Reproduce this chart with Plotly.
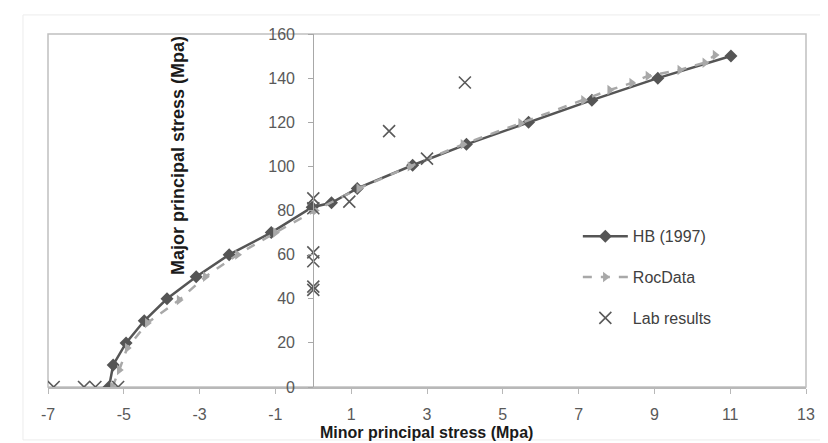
import plotly.graph_objects as go

# HB (1997) series
hb_sigma3 = [-5.39, -5.28, -4.94, -4.46, -3.86, -3.09, -2.22, -1.11, -0.03, 0.48, 1.16, 2.62, 4.04, 5.68, 7.35, 9.09, 11.02]
hb_sigma1 = [0, 10, 20, 30, 40, 50, 60, 70, 81.5, 83.5, 90, 100.5, 110, 120, 130, 140, 150]

# RocData series
rd_sigma3 = [-5.3, -5.12, -4.91, -4.38, -3.54, -2.85, -2.0, -1.0, 0.05, 1.2, 2.55, 3.95, 5.47, 7.13, 7.82, 8.4, 8.83, 9.67, 10.33, 10.6]
rd_sigma1 = [0, 7.7, 17.7, 29, 39.4, 50, 60, 70, 80, 90, 100, 110, 119.6, 130, 134.6, 137.8, 141, 143.7, 147, 150.5]

# Lab results
lab_sigma3 = [-6.85, -6.05, -5.75, -5.15, 0, 0, 0, 0, 0, 0, 0.95, 2.0, 3.0, 4.0]
lab_sigma1 = [0, 0, 0, 0, 44, 45.5, 57, 61, 81, 85.5, 84, 116, 103.5, 138]

x_ticks = [-7, -5, -3, -1, 1, 3, 5, 7, 9, 11, 13]
x_tick_labels = ["-7", "-5", "-3", "-1", "1", "3", "5", "7", "9", "11", "13"]
y_ticks = [0, 20, 40, 60, 80, 100, 120, 140, 160]
x_range = [-7, 13]
y_range = [0, 160]

fig = go.Figure()

fig.add_trace(go.Scatter(
    x=hb_sigma3, y=hb_sigma1, mode="lines+markers", name="HB (1997)",
    line=dict(color="#555555", width=2.5),
    marker=dict(symbol="diamond", size=10, color="#555555"),
    legendgroup="a",
))
fig.add_trace(go.Scatter(
    x=rd_sigma3, y=rd_sigma1, mode="lines+markers", name="RocData",
    line=dict(color="#a8a8a8", width=2.5, dash="dash"),
    marker=dict(symbol="triangle-right", size=9, color="#a8a8a8"),
    legendgroup="b",
))
fig.add_trace(go.Scatter(
    x=lab_sigma3, y=lab_sigma1, mode="markers", name="Lab results",
    marker=dict(symbol="x-thin-open", size=12, color="#5a5a5a",
                line=dict(width=1.6, color="#5a5a5a")),
    legendgroup="c",
))

yaxis_pos = (0 - x_range[0]) / (x_range[1] - x_range[0])

fig.update_layout(
    width=820, height=435,
    margin=dict(l=40, r=22, t=26, b=56),
    paper_bgcolor="white", plot_bgcolor="white",
    font=dict(family="Liberation Sans, Arial, sans-serif", color="#595959"),
    showlegend=True,
    legend=dict(
        x=0.699, y=0.475, xanchor="left", yanchor="top",
        font=dict(size=16, color="#404040"),
        tracegroupgap=17, bgcolor="rgba(0,0,0,0)", itemwidth=45,
    ),
    xaxis=dict(
        range=x_range, tickvals=x_ticks, ticktext=x_tick_labels,
        showgrid=False, zeroline=False,
        showline=True, linecolor="#b8b8b8", linewidth=1.5,
        ticks="outside", ticklen=5, tickcolor="#b8b8b8",
        tickfont=dict(size=16, color="#595959"), ticklabelstandoff=7,
        fixedrange=True,
    ),
    yaxis=dict(
        range=y_range, tickvals=y_ticks, showgrid=False, zeroline=False,
        showline=True, linecolor="#a8a8a8", linewidth=1.2,
        ticks="outside", ticklen=5, tickcolor="#a8a8a8",
        tickfont=dict(size=16, color="#595959"), ticklabelstandoff=10,
        anchor="free", position=yaxis_pos,
        fixedrange=True,
    ),
    shapes=[
        dict(type="rect", xref="paper", yref="paper", x0=0, x1=1, y0=0, y1=1,
             line=dict(color="#c0c0c0", width=1.5), layer="below"),
        dict(type="rect", xref="paper", yref="paper", x0=-0.033, x1=1.026, y0=-0.15, y1=1.054,
             line=dict(color="#ececec", width=1), layer="below"),
    ],
    annotations=[
        dict(text="<b>Minor principal stress (Mpa)</b>", xref="paper", yref="paper",
             x=(426 - 48) / 758, y=-0.13, xanchor="center", yanchor="middle",
             showarrow=False, font=dict(size=16, color="#1a1a1a")),
        dict(text="<b>Major principal stress (Mpa)</b>", xref="paper", yref="paper",
             x=(178 - 48) / 758, y=(387 - 156) / 353, xanchor="center", yanchor="middle",
             textangle=-90, showarrow=False, font=dict(size=18, color="#1a1a1a")),
    ],
)

fig.write_html("out.html")
